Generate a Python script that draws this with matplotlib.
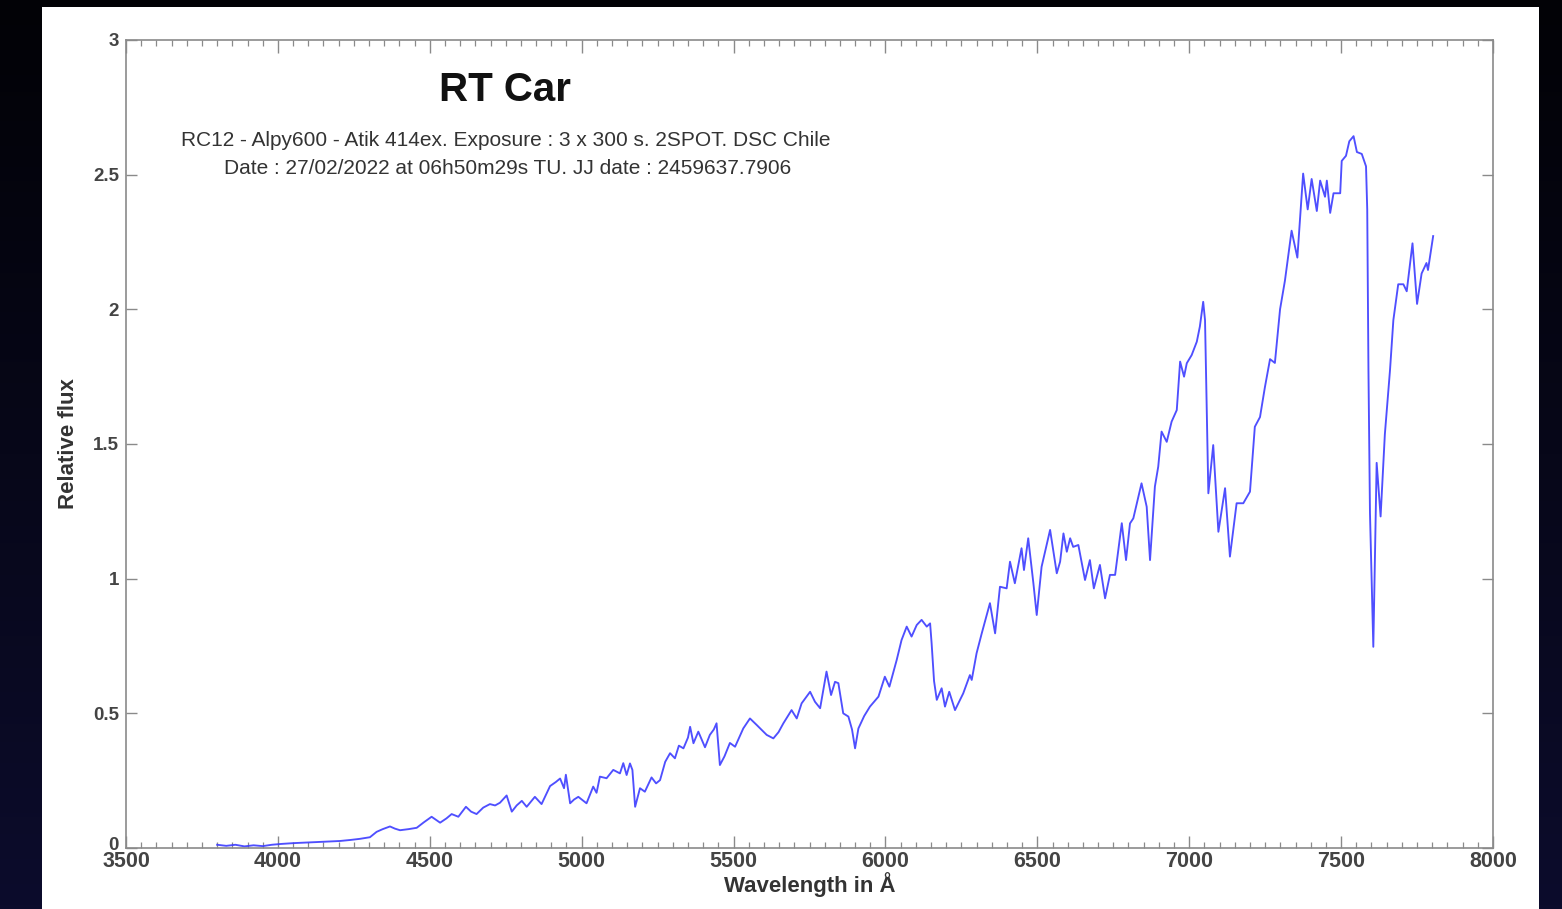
import numpy as np
import matplotlib
matplotlib.use("Agg")
import matplotlib.pyplot as plt
import matplotlib.transforms as mtransforms
from matplotlib.ticker import MultipleLocator, FixedLocator
from matplotlib.patches import Rectangle

plt.rcParams['font.family'] = ['Liberation Sans', 'DejaVu Sans']

# spectrum of RT Car (wavelength in Angstrom, relative flux)
wavelength = [3800, 3830, 3860, 3890, 3920, 3950, 3980, 4010, 4050, 4090, 4130, 4170,
              4204, 4240, 4270, 4303, 4325, 4345, 4369, 4385, 4402, 4430, 4457, 4480,
              4506, 4520, 4534, 4555, 4572, 4594, 4619, 4636, 4654, 4676, 4698, 4715,
              4731, 4753, 4770, 4786, 4803, 4819, 4846, 4868, 4896, 4915, 4929, 4942,
              4948, 4962, 4975, 4989, 5016, 5038, 5049, 5060, 5082, 5104, 5126, 5137,
              5148, 5159, 5167, 5176, 5192, 5208, 5230, 5245, 5258, 5275, 5291, 5307,
              5320, 5335, 5350, 5357, 5368, 5384, 5406, 5422, 5435, 5444, 5455, 5470,
              5488, 5505, 5532, 5554, 5576, 5609, 5631, 5648, 5664, 5691, 5708, 5724,
              5752, 5768, 5785, 5806, 5821, 5834, 5845, 5861, 5878, 5890, 5900, 5911,
              5930, 5949, 5977, 5998, 6013, 6037, 6053, 6070, 6086, 6103, 6119, 6136,
              6147, 6152, 6160, 6169, 6185, 6196, 6210, 6229, 6256, 6278, 6284, 6300,
              6317, 6344, 6361, 6377, 6399, 6410, 6426, 6448, 6456, 6470, 6487, 6498,
              6514, 6542, 6564, 6575, 6586, 6597, 6608, 6618, 6635, 6657, 6673, 6686,
              6706, 6723, 6739, 6756, 6778, 6792, 6805, 6816, 6843, 6860, 6871, 6887,
              6898, 6909, 6926, 6942, 6959, 6970, 6983, 6992, 7008, 7025, 7035, 7046,
              7052, 7063, 7079, 7096, 7118, 7134, 7156, 7178, 7200, 7216, 7233, 7249,
              7266, 7282, 7299, 7315, 7337, 7356, 7375, 7390, 7403, 7420, 7431, 7447,
              7453, 7464, 7475, 7497, 7502, 7516, 7527, 7541, 7552, 7568, 7582, 7586,
              7590, 7595, 7606, 7617, 7630, 7644, 7661, 7672, 7688, 7705, 7716, 7735,
              7750, 7765, 7781, 7786, 7803]
flux = [0.012, 0.008, 0.012, 0.006, 0.010, 0.007, 0.012, 0.015, 0.018, 0.020, 0.022, 0.024,
        0.026, 0.030, 0.034, 0.040, 0.060, 0.070, 0.080, 0.072, 0.066, 0.070, 0.075, 0.095,
        0.116, 0.105, 0.094, 0.110, 0.126, 0.116, 0.153, 0.135, 0.126, 0.150, 0.163, 0.158,
        0.168, 0.195, 0.135, 0.158, 0.175, 0.153, 0.190, 0.163, 0.230, 0.245, 0.258, 0.222,
        0.272, 0.166, 0.180, 0.190, 0.166, 0.228, 0.205, 0.265, 0.259, 0.290, 0.277, 0.315,
        0.271, 0.314, 0.290, 0.153, 0.222, 0.209, 0.262, 0.240, 0.252, 0.320, 0.352, 0.333,
        0.380, 0.370, 0.410, 0.450, 0.389, 0.432, 0.374, 0.420, 0.440, 0.463, 0.308, 0.340,
        0.390, 0.376, 0.444, 0.481, 0.457, 0.420, 0.407, 0.430, 0.463, 0.512, 0.481, 0.537,
        0.580, 0.543, 0.519, 0.655, 0.568, 0.617, 0.612, 0.500, 0.488, 0.440, 0.370, 0.444,
        0.490, 0.525, 0.562, 0.636, 0.599, 0.698, 0.772, 0.822, 0.785, 0.828, 0.847, 0.822,
        0.834, 0.760, 0.620, 0.550, 0.593, 0.525, 0.580, 0.512, 0.574, 0.642, 0.624, 0.723,
        0.797, 0.909, 0.797, 0.970, 0.964, 1.063, 0.983, 1.113, 1.032, 1.150, 0.983, 0.865,
        1.044, 1.181, 1.020, 1.063, 1.168, 1.100, 1.150, 1.118, 1.125, 0.995, 1.069, 0.964,
        1.051, 0.927, 1.014, 1.014, 1.206, 1.069, 1.205, 1.224, 1.354, 1.267, 1.069, 1.342,
        1.416, 1.546, 1.508, 1.583, 1.626, 1.806, 1.750, 1.800, 1.830, 1.880, 1.936, 2.028,
        1.960, 1.317, 1.496, 1.174, 1.336, 1.082, 1.280, 1.280, 1.323, 1.564, 1.600, 1.710,
        1.815, 1.801, 2.000, 2.106, 2.292, 2.192, 2.504, 2.371, 2.484, 2.365, 2.478, 2.418,
        2.478, 2.358, 2.431, 2.431, 2.551, 2.570, 2.624, 2.643, 2.584, 2.577, 2.531, 2.371,
        1.775, 1.244, 0.747, 1.430, 1.231, 1.536, 1.775, 1.960, 2.093, 2.093, 2.067, 2.245,
        2.020, 2.133, 2.172, 2.146, 2.272]

x_ticks = [3500, 4000, 4500, 5000, 5500, 6000, 6500, 7000, 7500, 8000]
y_ticks = [0, 0.5, 1, 1.5, 2, 2.5, 3]
y_ticklabels = ["0", "0.5", "1", "1.5", "2", "2.5", "3"]

title = "RT Car"
subtitle = ["RC12 - Alpy600 - Atik 414ex. Exposure : 3 x 300 s. 2SPOT. DSC Chile",
            "Date : 27/02/2022 at 06h50m29s TU. JJ date : 2459637.7906"]

W, H = 1562, 909
fig = plt.figure(figsize=(W / 100, H / 100), dpi=100)
fig.patch.set_facecolor("black")

# dark backdrop with a slight navy tint towards the bottom
bg = fig.add_axes([0, 0, 1, 1], zorder=-10)
grad = np.linspace(0, 1, 256)[:, None]
top = np.array([2, 2, 6]) / 255.0
bot = np.array([12, 12, 44]) / 255.0
img = top[None, None, :] * (1 - grad[:, :, None]) + bot[None, None, :] * grad[:, :, None]
bg.imshow(img, aspect="auto", extent=[0, 1, 0, 1], origin="upper")
bg.add_patch(Rectangle((42 / W, 0), (1539 - 42) / W, (H - 7) / H,
                       facecolor="white", edgecolor="none"))
bg.set_xlim(0, 1)
bg.set_ylim(0, 1)
bg.axis("off")

ax = fig.add_axes([126 / W, 1 - 848 / H, (1493 - 126) / W, (848 - 40) / H])
ax.plot(wavelength, flux, color="#3c3cff", lw=1.35, alpha=0.9)

ax.set_xlim(3500, 8000)
ax.set_ylim(0, 3)
ax.xaxis.set_major_locator(FixedLocator(x_ticks))
ax.xaxis.set_minor_locator(MultipleLocator(50))
ax.yaxis.set_major_locator(FixedLocator(y_ticks))
ax.set_yticklabels(y_ticklabels)

for s in ax.spines.values():
    s.set_color("#8a8a8a")
    s.set_linewidth(1.2)

ax.tick_params(axis="x", which="major", direction="in", top=True, length=9,
               width=1.0, color="#8a8a8a", labelsize=15.5, labelcolor="#444444", pad=2)
ax.tick_params(axis="x", which="minor", direction="in", top=True, length=4.5,
               width=0.9, color="#8a8a8a")
ax.tick_params(axis="y", which="major", direction="in", right=True, length=8,
               width=1.0, color="#8a8a8a", labelsize=13.5, labelcolor="#444444", pad=5)
for lab in ax.get_xticklabels() + ax.get_yticklabels():
    lab.set_fontweight("bold")

# lift the "0" label a little so it clears the first wavelength label
zero_lab = ax.get_yticklabels()[0]
zero_lab.set_transform(zero_lab.get_transform() +
                       mtransforms.ScaledTranslation(0, 5 / 100, fig.dpi_scale_trans))

ax.set_xlabel("Wavelength in Å", fontsize=16, fontweight="bold", color="#333333", labelpad=0)
ax.set_ylabel("Relative flux", fontsize=16, fontweight="bold", color="#333333", labelpad=10)

fig.text(505 / W, 1 - 90 / H, title, ha="center", va="center",
         fontsize=29, fontweight="bold", color="#111111")
fig.text(506 / W, 1 - 140 / H, subtitle[0], ha="center", va="center",
         fontsize=15, color="#333333")
fig.text(508 / W, 1 - 168 / H, subtitle[1], ha="center", va="center",
         fontsize=15, color="#333333")

fig.savefig("out.png", dpi=100, facecolor=fig.get_facecolor())
